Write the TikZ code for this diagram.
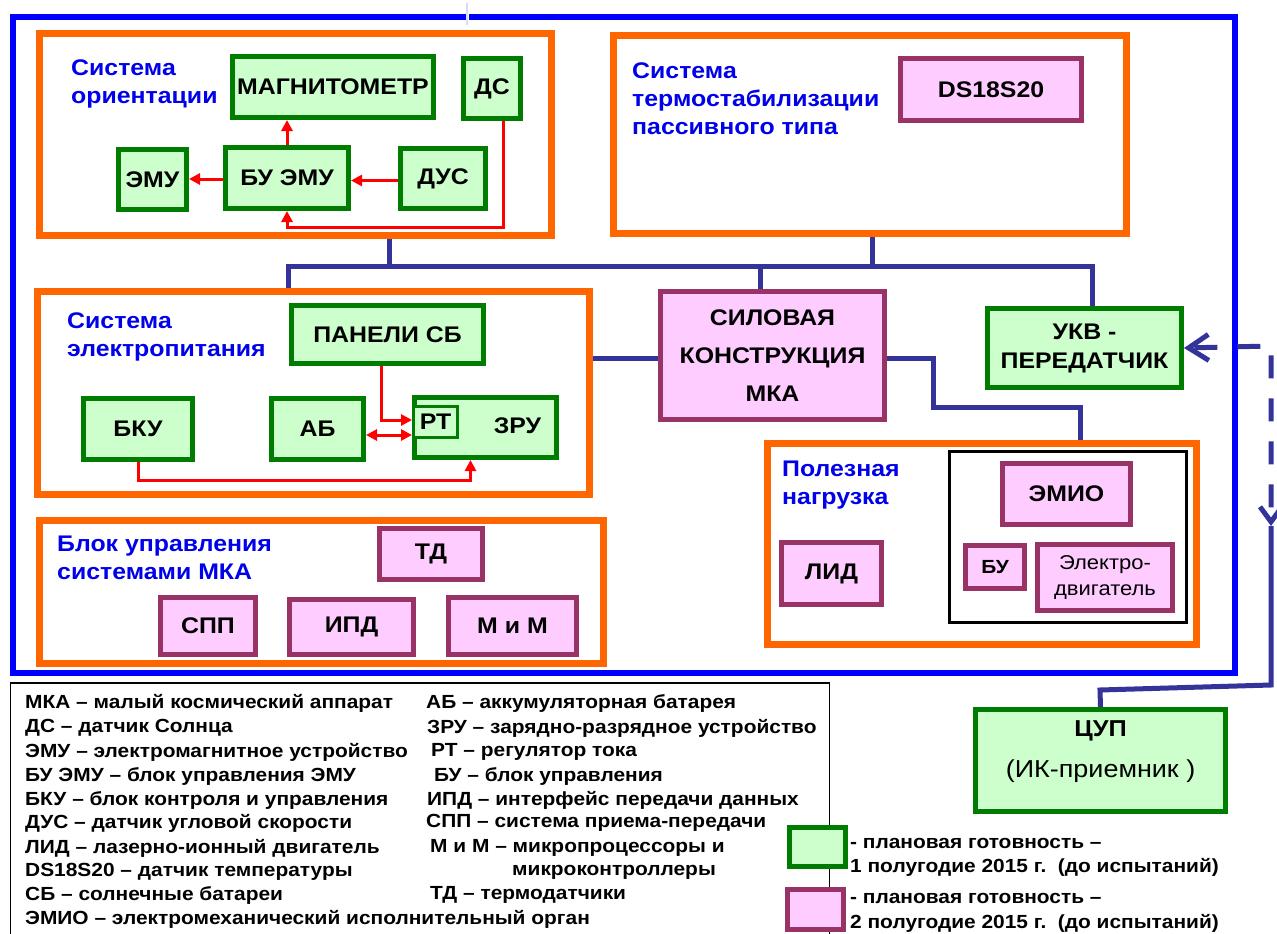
\documentclass[tikz,border=0pt]{standalone}
\usepackage{fontspec}
\setmainfont[FakeStretch=1.1]{Liberation Sans}
\usetikzlibrary{arrows.meta,calc}
\definecolor{dgreen}{RGB}{0,125,0}
\definecolor{lgreen}{RGB}{204,255,204}
\definecolor{plum}{RGB}{153,51,102}
\definecolor{lpink}{RGB}{255,204,255}
\definecolor{orng}{RGB}{255,102,0}
\definecolor{fblue}{RGB}{0,0,255}
\definecolor{tblue}{RGB}{0,0,235}
\definecolor{cblue}{RGB}{51,51,153}
\definecolor{gapblue}{RGB}{215,220,255}
\tikzset{
  gbox/.style={draw=dgreen, fill=lgreen, line width=5pt, inner sep=0pt, align=center,
    font=\bfseries\fontsize{22.6}{38}\selectfont},
  pbox/.style={draw=plum, fill=lpink, line width=5pt, inner sep=0pt, align=center,
    font=\bfseries\fontsize{22.6}{38}\selectfont},
  obox/.style={draw=orng, line width=7pt, inner sep=0pt},
  ttl/.style={text=tblue, anchor=west, inner sep=0pt, align=left,
    font=\bfseries\fontsize{22.6}{28}\selectfont},
  rarr/.style={draw=red, line width=3pt, -{Triangle[length=11pt,width=11pt]}},
  rarrb/.style={draw=red, line width=3pt, {Triangle[length=11pt,width=11pt]}-{Triangle[length=11pt,width=11pt]}},
  bline/.style={draw=cblue, line width=5pt},
  leg/.style={anchor=west, inner sep=0pt, font=\bfseries\fontsize{19}{24}\selectfont},
  legb/.style={anchor=west, inner sep=0pt, font=\bfseries\fontsize{19}{24}\selectfont},
}
\begin{document}
\begin{tikzpicture}[x=1pt,y=-1pt]
\useasboundingbox (0,0) rectangle (1277,934);
\fill[white] (0,0) rectangle (1277,934);

% outer frame
\node[draw=fblue, line width=6pt, minimum width=1222pt, minimum height=656pt, inner sep=0pt] (frame) at (624,345) {};
\draw[white, line width=3pt] (467,10) -- (467,21);
\draw[gapblue, line width=1.2pt] (467,3) -- (467,25);

% subsystem containers
\node[obox, minimum width=512pt, minimum height=202pt] (o1) at (295.5,134.5) {};
\node[obox, minimum width=513pt, minimum height=198pt] (o2) at (870,134.5) {};
\node[obox, minimum width=552pt, minimum height=203pt] (o3) at (313.5,393) {};
\node[obox, minimum width=429pt, minimum height=201pt] (o4) at (982,544) {};
\node[obox, minimum width=564pt, minimum height=143pt] (o5) at (321.5,592) {};
\node[draw=black, line width=3pt, minimum width=237pt, minimum height=171pt, inner sep=0pt] (blk) at (1068,537) {};

% legend frame
\node[draw=black, line width=1.2pt, minimum width=819pt, minimum height=270pt, inner sep=0pt] (legbox) at (420,818) {};

% titles
\node[ttl] (t1) at (71,84) {Система\\ориентации};
\node[ttl] (t2) at (632,99) {Система\\термостабилизации\\пассивного типа};
\node[ttl] (t3) at (67,337) {Система\\электропитания};
\node[ttl] (t4) at (782,485.5) {Полезная\\нагрузка};
\node[ttl] (t5) at (57,558) {Блок управления\\системами МКА};

% green boxes
\node[gbox, minimum width=201pt, minimum height=61pt] (mag) at (333,87) {МАГНИТОМЕТР};
\node[gbox, minimum width=57pt, minimum height=60pt] (ds) at (492,88.5) {ДС};
\node[gbox, minimum width=68pt, minimum height=60pt] (emu) at (152.5,179.5) {ЭМУ};
\node[gbox, minimum width=123pt, minimum height=61pt] (buemu) at (287,178) {БУ ЭМУ};
\node[gbox, minimum width=85pt, minimum height=60pt] (dus) at (443,178.5) {ДУС};
\node[gbox, minimum width=192pt, minimum height=58pt] (panel) at (387.5,334.5) {ПАНЕЛИ СБ};
\node[gbox, minimum width=109pt, minimum height=61pt] (bku) at (138,429) {БКУ};
\node[gbox, minimum width=92pt, minimum height=61pt] (ab) at (317.5,429) {АБ};
\node[gbox, minimum width=142pt, minimum height=60pt] (zru) at (485.5,427.5) {\hspace*{64pt}\raisebox{4pt}{ЗРУ}};
\node[gbox, line width=3pt, minimum width=44pt, minimum height=31pt] (rt) at (435.5,422) {РТ};
\node[gbox, minimum width=194pt, minimum height=79pt] (ukv) at (1084.5,348) {УКВ -\\[-9pt]ПЕРЕДАТЧИК};
\node[gbox, minimum width=250pt, minimum height=102pt] (cup) at (1100.5,760.5)
  {\fontsize{23}{40}\selectfont ЦУП\\[3pt]\mdseries\fontsize{24.5}{40}\selectfont(ИК-приемник )\\[-16pt]\mbox{}};

% pink boxes
\node[pbox, minimum width=181pt, minimum height=62pt] (ds18) at (991,89.5) {DS18S20};
\node[pbox, minimum width=224pt, minimum height=128pt] (sil) at (772.5,355.5) {СИЛОВАЯ\\КОНСТРУКЦИЯ\\МКА};
\node[pbox, minimum width=128pt, minimum height=61pt] (emio) at (1066.5,494) {ЭМИО};
\node[pbox, minimum width=59pt, minimum height=43pt, font=\bfseries\fontsize{19}{24}\selectfont] (bu) at (995,567) {БУ};
\node[pbox, minimum width=135pt, minimum height=66pt, font=\fontsize{20}{26}\selectfont] (eldv) at (1105,577.5) {Электро-\\двигатель};
\node[pbox, minimum width=100pt, minimum height=62pt] (lid) at (831.5,573.5) {ЛИД};
\node[pbox, minimum width=103pt, minimum height=51pt] (td) at (431,554) {ТД};
\node[pbox, minimum width=95pt, minimum height=57pt] (spp) at (208,626) {СПП};
\node[pbox, minimum width=124pt, minimum height=55pt] (ipd) at (351.5,627) {ИПД};
\node[pbox, minimum width=128pt, minimum height=57pt] (mim) at (512.5,626) {М и М};

% red connectors
\draw[rarr] (buemu.north) -- (buemu.north |- mag.south);
\draw[rarr] ([yshift=-1pt]buemu.west) -- ([yshift=-1pt]buemu.west -| emu.east);
\draw[rarr] ([yshift=-2pt]dus.west) -- ([yshift=-2pt]dus.west -| buemu.east);
\draw[rarr] ($(ds.south)+(11,0)$) |- ($(buemu.south)+(0,16)$) -- (buemu.south);
\draw[rarr] ($(panel.south)+(-6,0)$) |- ([yshift=2pt]rt.west);
\draw[rarrb] ([yshift=-6pt]ab.east) -- ([yshift=-6pt]ab.east -| zru.west);
\draw[rarr] (bku.south) -- ++(0,18) -| ([xshift=-15pt]zru.south);

% blue connectors
\coordinate (busL) at (288,266);
\coordinate (busR) at (1092,266);
\draw[bline] (o3.north -| busL) -- (busL) -- (busR) -- (ukv.north -| busR);
\draw[bline] (o1.south -| 389,0) -- (busL -| 389,0);
\draw[bline] (o2.south -| 872,0) -- (busL -| 872,0);
\draw[bline] (sil.north -| 760,0) -- (busL -| 760,0);
\draw[bline] ([yshift=-3pt]sil.west -| o3.east) -- ([yshift=-3pt]sil.west);
\draw[bline] ([yshift=-3pt]sil.east) -- ++(46,0) |- (1080,407) -- (o4.north -| 1080,0);

% ground link
\coordinate (j) at (1271,526);
\draw[bline] (cup.north) -- (1100,690) -- (1271,685) -- (j);
\draw[bline, dash pattern=on 23pt off 20pt, dash phase=31pt,
  {Straight Barb[length=15pt,width=22pt]}-{Straight Barb[length=20pt,width=26pt]}]
  (j) -- (1271,346) -- (ukv.east);

% legend text
\node[leg] at (25,703) {МКА – малый космический аппарат};
\node[leg] at (25,728) {ДС – датчик Солнца};
\node[leg] at (25,752) {ЭМУ – электромагнитное устройство};
\node[leg] at (25,776) {БУ ЭМУ – блок управления ЭМУ};
\node[leg] at (25,800) {БКУ – блок контроля и управления};
\node[leg] at (25,823) {ДУС – датчик угловой скорости};
\node[leg] at (25,848) {ЛИД – лазерно-ионный двигатель};
\node[leg] at (25,872) {DS18S20 – датчик температуры};
\node[leg] at (25,895) {СБ – солнечные батареи};
\node[leg] at (25,919) {ЭМИО – электромеханический исполнительный орган};
\node[leg] at (426,703) {АБ – аккумуляторная батарея};
\node[leg] at (427,728) {ЗРУ – зарядно-разрядное устройство};
\node[leg] at (431,752) {РТ – регулятор тока};
\node[leg] at (434,776) {БУ – блок управления};
\node[leg] at (427,800) {ИПД – интерфейс передачи данных};
\node[leg] at (426,823) {СПП – система приема-передачи};
\node[leg] at (430,848) {М и М – микропроцессоры и};
\node[leg] at (512,872) {микроконтроллеры};
\node[leg] at (430,895) {ТД – термодатчики};

% colour key
\node[gbox, minimum width=56pt, minimum height=39pt] (kg) at (817.5,847) {};
\node[pbox, minimum width=56pt, minimum height=40pt] (kp) at (815.5,909.5) {};
\node[legb] at (850,843) {- плановая готовность –};
\node[legb] at (850,867) {1 полугодие 2015 г.\ \ (до испытаний)};
\node[legb] at (850,898) {- плановая готовность –};
\node[legb] at (850,923) {2 полугодие 2015 г.\ \ (до испытаний)};
\end{tikzpicture}
\end{document}
